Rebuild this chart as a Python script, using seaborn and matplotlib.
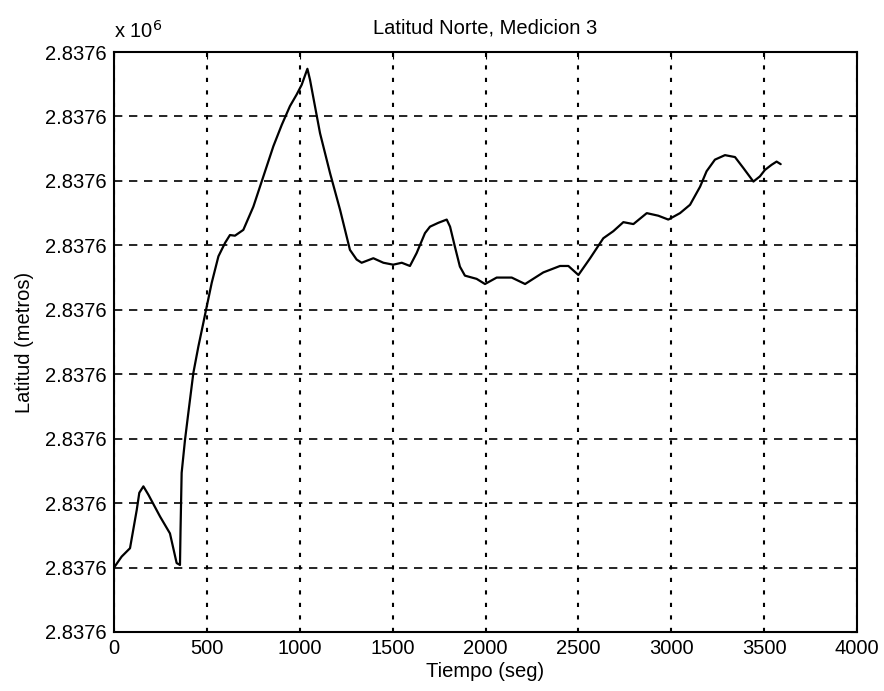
import numpy as np
import pandas as pd
import matplotlib
matplotlib.use("Agg")
import matplotlib.pyplot as plt
import seaborn as sns
from matplotlib.ticker import FuncFormatter

# ======================= DATA ======================
# time in seconds
tiempo = [0, 41, 86, 122, 136, 158, 185, 248, 301, 337, 355, 358, 364, 382, 400,
          427, 454, 481, 499, 526, 562, 598, 624, 651, 696, 750, 804, 858, 903,
          947, 983, 1010, 1041, 1055, 1109, 1163, 1217, 1270, 1306, 1333, 1396,
          1450, 1503, 1549, 1593, 1629, 1674, 1701, 1746, 1791, 1809, 1835, 1862,
          1889, 1952, 1997, 2060, 2141, 2213, 2311, 2401, 2446, 2500, 2563, 2634,
          2688, 2742, 2796, 2868, 2930, 2984, 3047, 3101, 3155, 3190, 3235, 3289,
          3343, 3388, 3442, 3477, 3504, 3540, 3567, 3589]
# latitude offset from base (metres)
lat_offset = [2.00, 2.34, 2.60, 3.78, 4.32, 4.52, 4.26, 3.58, 3.06, 2.14, 2.08,
              3.16, 4.94, 5.96, 6.80, 8.04, 8.86, 9.60, 10.10, 10.84, 11.66,
              12.08, 12.32, 12.30, 12.48, 13.20, 14.14, 15.08, 15.74, 16.32,
              16.68, 16.98, 17.48, 17.14, 15.48, 14.24, 13.10, 11.86, 11.56,
              11.46, 11.60, 11.46, 11.40, 11.46, 11.36, 11.76, 12.38, 12.58,
              12.70, 12.80, 12.58, 11.96, 11.34, 11.06, 10.96, 10.80, 11.00,
              11.00, 10.80, 11.16, 11.36, 11.36, 11.08, 11.60, 12.22, 12.44,
              12.72, 12.66, 13.00, 12.92, 12.80, 13.00, 13.26, 13.82, 14.30,
              14.66, 14.80, 14.74, 14.40, 13.98, 14.14, 14.34, 14.50, 14.60, 14.52]

base_lat = 2837630.0
y_ticks = [base_lat + 2 * k for k in range(10)]
x_ticks = [0, 500, 1000, 1500, 2000, 2500, 3000, 3500, 4000]

df = pd.DataFrame({"Tiempo": tiempo,
                   "Latitud": [base_lat + v for v in lat_offset]})

# ======================= PLOT ======================
sns.set_style("white")
plt.rcParams["font.family"] = ["Liberation Sans", "DejaVu Sans"]
plt.rcParams["text.color"] = "black"
plt.rcParams["axes.labelcolor"] = "black"
plt.rcParams["xtick.color"] = "black"
plt.rcParams["ytick.color"] = "black"
fs = 14.5

fig = plt.figure(figsize=(8.84, 6.91), dpi=100)
ax = fig.add_axes([0.129, 0.0854, 0.8405, 0.8393])

sns.lineplot(data=df, x="Tiempo", y="Latitud", color="black", linewidth=1.6,
             ax=ax, sort=False)

ax.set_xlim(0, 4000)
ax.set_ylim(y_ticks[0], y_ticks[-1])
ax.set_xticks(x_ticks)
ax.set_yticks(y_ticks)
ax.yaxis.set_major_formatter(FuncFormatter(lambda v, p: "%.4f" % (v / 1e6)))

# MATLAB-like dotted grid
ax.yaxis.grid(True, color="black", linestyle=(0, (5, 4)), linewidth=1.2)
ax.xaxis.grid(True, color="black", linestyle=(0, (2, 4)), linewidth=1.5)
ax.tick_params(direction="in", length=5, labelsize=fs, colors="black",
               top=True, right=True, pad=5)
for s in ax.spines.values():
    s.set_color("black")
    s.set_linewidth(1.5)

ax.set_xlabel("Tiempo (seg)", fontsize=fs, labelpad=3)
ax.set_ylabel("Latitud (metros)", fontsize=fs, labelpad=8)
ax.set_title("Latitud Norte, Medicion 3", fontsize=fs, pad=13)
ax.text(0, 1.018, r"x 10$^6$", transform=ax.transAxes, fontsize=fs,
        ha="left", va="bottom")

plt.savefig("out.png", dpi=100)
